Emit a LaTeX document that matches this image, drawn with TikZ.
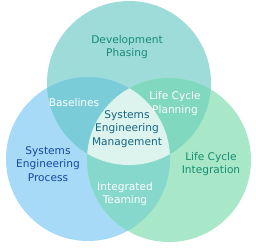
\documentclass[tikz,border=0pt]{standalone}
\usepackage{fontspec}
\setmainfont{DejaVu Sans}
\definecolor{vnteal}{RGB}{157,220,216}
\definecolor{vnblue}{RGB}{166,218,246}
\definecolor{vngreen}{RGB}{168,232,200}
\definecolor{vntealblue}{RGB}{122,204,217}
\definecolor{vntealgreen}{RGB}{128,216,190}
\definecolor{vnbluegreen}{RGB}{134,216,204}
\definecolor{vncore}{RGB}{220,243,238}
\definecolor{txteal}{RGB}{24,138,120}
\definecolor{txblue}{RGB}{22,72,160}
\definecolor{txgreen}{RGB}{22,140,112}
\definecolor{txcore}{RGB}{22,100,130}
\usetikzlibrary{positioning}

\begin{document}
\begin{tikzpicture}[x=1pt, y=-1pt,
  ring/.style={circle, inner sep=0pt, minimum size=164pt},
  lbl/.style={align=center, inner sep=0pt, font=\fontsize{10.6}{13.2}\selectfont}]
  \useasboundingbox (0,0) rectangle (256,247);
  \node[ring, fill=vnteal] (phasing) at (129,83) {};
  \node[ring, fill=vnblue] (process) at (88,159) {};
  \node[ring, fill=vngreen] (integration) at (169,160) {};

  \begin{scope}
    \clip (phasing.center) circle (82pt);
    \fill[vntealblue] (process.center) circle (82pt);
    \fill[vntealgreen] (integration.center) circle (82pt);
  \end{scope}
  \begin{scope}
    \clip (process.center) circle (82pt);
    \fill[vnbluegreen] (integration.center) circle (82pt);
    \clip (integration.center) circle (82pt);
    \fill[vncore] (phasing.center) circle (82pt);
  \end{scope}

  \node[lbl, text=txteal] (t-phasing) at (127,47) {Development\\Phasing};
  \node[lbl, text=txblue] (t-process) at (48,164) {Systems\\Engineering\\Process};
  \node[lbl, text=txgreen] (t-integration) at (211,164) {Life Cycle\\Integration};
  \node[lbl, text=white] (t-baselines) at (74,103) {Baselines};
  \node[lbl, text=white] (t-planning) at (175,103.5) {Life Cycle\\Planning};
  \node[lbl, text=white] (t-teaming) at (125,194) {Integrated\\Teaming};
  \node[lbl, text=txcore] (t-core) at (127,129) {Systems\\Engineering\\Management};
\end{tikzpicture}
\end{document}
